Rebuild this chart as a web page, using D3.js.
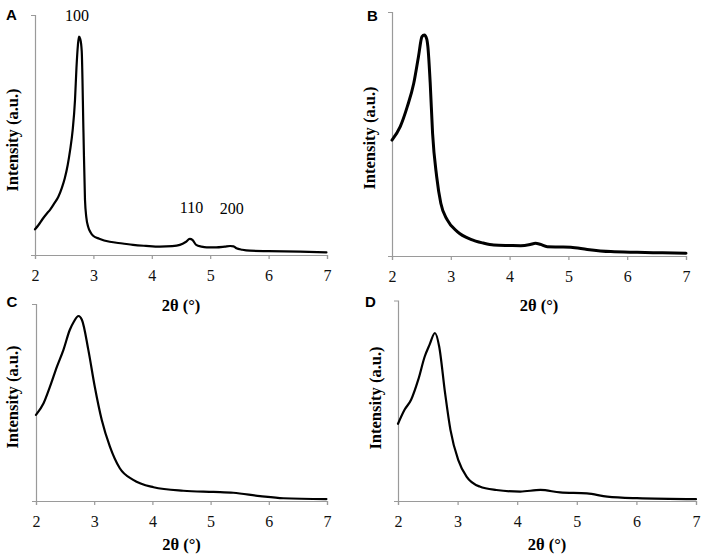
<!DOCTYPE html>
<html>
<head>
<meta charset="utf-8">
<script src="https://cdn.jsdelivr.net/npm/d3@7"></script>
<style>
  html, body { margin: 0; padding: 0; background: #fff; }
  svg { display: block; }
</style>
</head>
<body>
<svg id="chart" width="708" height="559"></svg>
<script>
// ---- data (2θ in degrees, intensity in arbitrary units 0-100) ----
const xTicks = [2, 3, 4, 5, 6, 7];
const panelLetters = ["A", "B", "C", "D"];
const xLabel = "2θ (°)";
const yLabel = "Intensity (a.u.)";

const thetaA = [2.0, 2.06, 2.13, 2.2, 2.257, 2.33, 2.4, 2.46, 2.51, 2.56, 2.6, 2.645, 2.685, 2.71, 2.735, 2.753, 2.775, 2.8, 2.83, 2.856, 2.88, 2.91, 2.95, 3.0, 3.1, 3.28, 3.5, 3.68, 3.9, 4.14, 4.35, 4.48, 4.58, 4.65, 4.7, 4.76, 4.85, 4.94, 5.1, 5.25, 5.34, 5.4, 5.45, 5.55, 5.68, 6.0, 6.54, 6.99];
const intA   = [10.7, 12.5, 15.0, 17.2, 18.8, 21.5, 24.3, 28.0, 32.0, 37.5, 43.5, 52, 64.6, 78, 87.5, 91, 90, 85, 51, 23, 15.5, 11.8, 9.5, 7.9, 6.8, 5.5, 4.8, 4.2, 3.8, 3.5, 3.7, 4.2, 5.4, 6.7, 6.2, 4.2, 3.5, 3.2, 3.2, 3.5, 3.75, 3.6, 2.8, 2.2, 1.8, 1.6, 1.4, 1.1];

const thetaB = [2.0, 2.14, 2.26, 2.37, 2.45, 2.51, 2.55, 2.59, 2.61, 2.65, 2.69, 2.76, 2.83, 2.94, 3.11, 3.34, 3.55, 3.73, 4.0, 4.19, 4.35, 4.44, 4.52, 4.64, 4.85, 5.04, 5.32, 5.72, 6.17, 6.6, 7.0];
const intB   = [47.5, 53, 61.2, 70.8, 81.7, 89.9, 90.6, 89, 85.8, 70.8, 50.3, 32.5, 21.6, 14.8, 10, 6.8, 5.3, 4.5, 4.3, 4.2, 4.7, 5.2, 4.8, 3.8, 3.7, 3.6, 2.7, 1.8, 1.5, 1.3, 1.1];

const thetaC = [2.0, 2.13, 2.24, 2.36, 2.47, 2.58, 2.65, 2.73, 2.79, 2.9, 3.01, 3.13, 3.27, 3.44, 3.67, 4.02, 4.53, 5.05, 5.39, 5.85, 6.25, 6.99];
const intC   = [43.7, 49.6, 58, 68.2, 76.6, 86.8, 91, 93.9, 91.9, 76.6, 58, 41.1, 27.6, 16.6, 10.7, 7, 5.2, 4.6, 4.2, 2.5, 1.4, 1.0];

const thetaD = [2.0, 2.11, 2.22, 2.34, 2.45, 2.53, 2.62, 2.69, 2.79, 2.88, 3.01, 3.15, 3.37, 3.65, 4.05, 4.39, 4.72, 5.17, 5.51, 6.01, 7.0];
const intD   = [38.5, 45.5, 50.5, 60.5, 72.2, 78, 83.8, 77.2, 53.8, 35.5, 20.5, 12.2, 7.2, 5.5, 4.7, 5.5, 4.3, 3.8, 2.2, 1.4, 0.9];

const peakLabels = ["100", "110", "200"];
const peakTheta  = [2.72, 4.68, 5.37];
const peakLabelInt = [97.5, 17.3, 17];

// ---- layout ----
const panels = [
  { letter: panelLetters[0], theta: thetaA, inten: intA, x0: 35, x1: 327, yTop: 15, yBot: 255, lw: 2.2,
    letterX: 6, letterY: 20, yLabX: 18, yLabY: 140, xLabY: 311 },
  { letter: panelLetters[1], theta: thetaB, inten: intB, x0: 392, x1: 686, yTop: 12, yBot: 256, lw: 3,
    letterX: 367, letterY: 21, yLabX: 375, yLabY: 138, xLabY: 311 },
  { letter: panelLetters[2], theta: thetaC, inten: intC, x0: 36, x1: 327, yTop: 304, yBot: 501, lw: 2.2,
    letterX: 6.5, letterY: 306.5, yLabX: 18, yLabY: 397, xLabY: 550 },
  { letter: panelLetters[3], theta: thetaD, inten: intD, x0: 398, x1: 696, yTop: 300.5, yBot: 501, lw: 2.2,
    letterX: 365, letterY: 306.5, yLabX: 381, yLabY: 398, xLabY: 550 }
];

const svg = d3.select("#chart");
svg.append("rect").attr("width", 708).attr("height", 559).attr("fill", "#fff");

const axisColor = "#9a9a9a";
const serif = "'Liberation Serif', 'Times New Roman', serif";
const sans = "'Liberation Sans', Arial, sans-serif";

panels.forEach((p, idx) => {
  const x = d3.scaleLinear().domain([2, 7]).range([p.x0, p.x1]);
  const y = d3.scaleLinear().domain([0, 100]).range([p.yBot, p.yTop]);
  const g = svg.append("g");

  // x axis
  const xAxis = d3.axisBottom(x).tickValues(xTicks).tickFormat(d3.format("d")).tickSize(4).tickPadding(11);
  const gx = g.append("g").attr("transform", `translate(0,${p.yBot})`).call(xAxis)
    .attr("font-family", serif).attr("font-size", 16);
  gx.select(".domain").attr("stroke", axisColor).attr("stroke-width", 1.2);
  gx.selectAll(".tick line").attr("stroke", axisColor).attr("stroke-width", 1.2);
  gx.selectAll(".tick text").attr("fill", "#111").attr("font-family", serif).attr("font-size", 16);

  // y axis (no labels, ticks at ends)
  const yAxis = d3.axisLeft(y).tickValues([]).tickSizeOuter(4);
  const gy = g.append("g").attr("transform", `translate(${p.x0},0)`).call(yAxis);
  gy.select(".domain").attr("stroke", axisColor).attr("stroke-width", 1.2).attr("fill", "none");

  // curve
  const pts = p.theta.map((t, i) => [t, p.inten[i]]);
  const line = d3.line().x(d => x(d[0])).y(d => y(d[1])).curve(d3.curveMonotoneX);
  g.append("path").datum(pts).attr("d", line)
    .attr("fill", "none").attr("stroke", "#000").attr("stroke-width", p.lw)
    .attr("stroke-linejoin", "round").attr("stroke-linecap", "round");

  // panel letter
  g.append("text").attr("x", p.letterX).attr("y", p.letterY).text(p.letter)
    .attr("font-family", sans).attr("font-weight", "bold").attr("font-size", 15).attr("fill", "#000");

  // y label
  g.append("text").attr("transform", `translate(${p.yLabX},${p.yLabY}) rotate(-90)`)
    .attr("text-anchor", "middle").text(yLabel)
    .attr("font-family", serif).attr("font-weight", "bold").attr("font-size", 16.5).attr("fill", "#000");

  // x label
  g.append("text").attr("x", (p.x0 + p.x1) / 2).attr("y", p.xLabY).attr("text-anchor", "middle").text(xLabel)
    .attr("font-family", serif).attr("font-weight", "bold").attr("font-size", 16.5).attr("fill", "#000");

  // peak labels on panel A
  if (idx === 0) {
    peakLabels.forEach((lab, i) => {
      g.append("text").attr("x", x(peakTheta[i])).attr("y", y(peakLabelInt[i])).attr("text-anchor", "middle")
        .text(lab).attr("font-family", serif).attr("font-size", 16).attr("fill", "#000");
    });
  }
});
</script>
</body>
</html>
